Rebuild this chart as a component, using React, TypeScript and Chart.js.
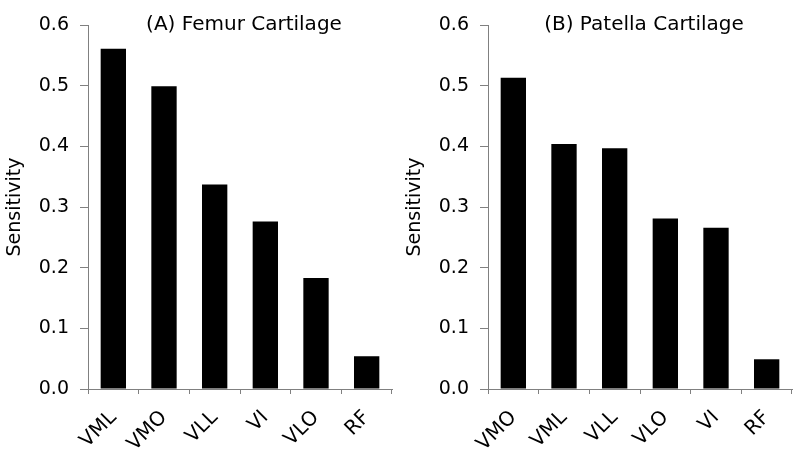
import React, { useEffect, useRef } from "react";
import { Chart, registerables } from "chart.js";

Chart.register(...registerables);

const femurCategories = ["VML", "VMO", "VLL", "VI", "VLO", "RF"];
const femurValues = [0.561, 0.499, 0.337, 0.276, 0.183, 0.054];
const patellaCategories = ["VMO", "VML", "VLL", "VLO", "VI", "RF"];
const patellaValues = [0.513, 0.404, 0.397, 0.281, 0.266, 0.049];
const yMin = 0;
const yMax = 0.6;
const yStep = 0.1;
const yAxisTitle = "Sensitivity";
const femurTitle = "(A) Femur Cartilage";
const patellaTitle = "(B) Patella Cartilage";

const FONT_FAMILY = "'DejaVu Sans', 'Liberation Sans', Arial, sans-serif";
const AXIS_COLOR = "#808080";

function Panel({ title, labels, values, left }: { title: string; labels: string[]; values: number[]; left: number }) {
  const ref = useRef<HTMLCanvasElement | null>(null);
  useEffect(() => {
    if (!ref.current) return;
    const titlePlugin = {
      id: "panelTitle",
      afterDraw(chart: any) {
        const { ctx, chartArea } = chart;
        ctx.save();
        ctx.font = `20px ${FONT_FAMILY}`;
        ctx.fillStyle = "#000";
        ctx.textAlign = "center";
        ctx.textBaseline = "alphabetic";
        ctx.fillText(title, (chartArea.left + chartArea.right) / 2 + 4, chartArea.top + 5);
        ctx.restore();
      },
    };
    const chart = new Chart(ref.current, {
      type: "bar",
      data: {
        labels,
        datasets: [
          {
            data: values,
            backgroundColor: "#000000",
            borderWidth: 0,
            barPercentage: 0.5,
            categoryPercentage: 1.0,
          },
        ],
      },
      options: {
        responsive: false,
        animation: false,
        layout: { padding: { top: 25, right: 8, left: 0, bottom: 0 } },
        plugins: { legend: { display: false }, tooltip: { enabled: false }, title: { display: false } },
        scales: {
          x: {
            offset: true,
            grid: {
              display: true,
              offset: true,
              drawOnChartArea: false,
              drawTicks: true,
              tickLength: 5,
              color: AXIS_COLOR,
              lineWidth: 1,
            },
            border: { display: true, color: AXIS_COLOR, width: 1 },
            ticks: {
              color: "#000",
              font: { family: FONT_FAMILY, size: 20 },
              minRotation: 45,
              maxRotation: 45,
              autoSkip: false,
              padding: 12,
            },
            afterFit: (s: any) => {
              s.height = 70;
            },
          },
          y: {
            min: yMin,
            max: yMax,
            ticks: {
              stepSize: yStep,
              callback: (v: any) => Number(v).toFixed(1),
              color: "#000",
              font: { family: FONT_FAMILY, size: 19 },
              padding: 11,
            },
            grid: {
              drawOnChartArea: false,
              drawTicks: true,
              tickLength: 8,
              color: AXIS_COLOR,
            },
            border: { display: true, color: AXIS_COLOR, width: 1 },
            title: {
              display: true,
              text: yAxisTitle,
              color: "#000",
              font: { family: FONT_FAMILY, size: 19 },
            },
            afterFit: (s: any) => {
              s.width = 88;
            },
          },
        },
      },
      plugins: [titlePlugin],
    } as any);
    return () => chart.destroy();
  }, [title, labels, values]);
  return (
    <canvas
      ref={ref}
      width={400}
      height={459}
      style={{ position: "absolute", left, top: 0, width: 400, height: 459 }}
    />
  );
}

export default function App() {
  return (
    <div style={{ position: "fixed", left: 0, top: 0, width: 800, height: 459, background: "#fff" }}>
      <Panel title={femurTitle} labels={femurCategories} values={femurValues} left={0} />
      <Panel title={patellaTitle} labels={patellaCategories} values={patellaValues} left={400} />
    </div>
  );
}
